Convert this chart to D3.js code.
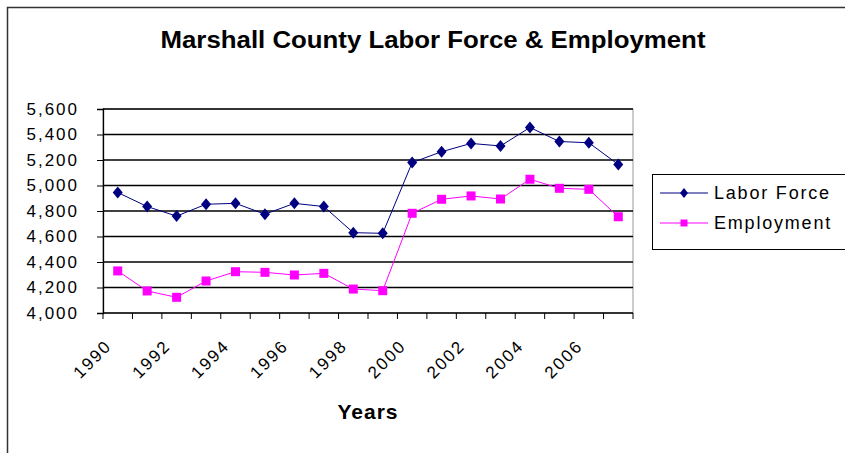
<!DOCTYPE html>
<html>
<head>
<meta charset="utf-8">
<script src="https://cdn.jsdelivr.net/npm/d3@7"></script>
<style>
  body { margin: 0; background: #fff; }
  text { font-family: "Liberation Sans", Arial, sans-serif; }
</style>
</head>
<body>
<svg width="845" height="453"></svg>
<script>
var years = [1990, 1991, 1992, 1993, 1994, 1995, 1996, 1997, 1998, 1999,
             2000, 2001, 2002, 2003, 2004, 2005, 2006, 2007];
var laborForce = [4945, 4835, 4760, 4853, 4860, 4775, 4860, 4835, 4630, 4625,
                  5180, 5265, 5330, 5310, 5455, 5345, 5335, 5165];
var employment = [4330, 4173, 4123, 4251, 4324, 4319, 4298, 4311, 4188, 4175,
                  4782, 4892, 4918, 4894, 5049, 4978, 4970, 4755];
var yTicks = [4000, 4200, 4400, 4600, 4800, 5000, 5200, 5400, 5600];
var series = [
  { name: "Labor Force", values: laborForce, color: "#000080", marker: "diamond" },
  { name: "Employment", values: employment, color: "#ff00ff", marker: "square" }
];

var svg = d3.select("svg"),
    plotLeft = 103, plotRight = 633, plotTop = 109, plotBottom = 313;

// outer chart frame (runs off the bottom/right edge like the screenshot)
svg.append("rect")
   .attr("x", 7.5).attr("y", 7.5)
   .attr("width", 860).attr("height", 470)
   .attr("fill", "#fff").attr("stroke", "#333").attr("stroke-width", 1.5);

var x = d3.scaleBand().domain(years).range([plotLeft, plotRight]).padding(0),
    y = d3.scaleLinear().domain([4000, 5600]).range([plotBottom, plotTop]);

// plot area border
svg.append("rect")
   .attr("x", plotLeft).attr("y", plotTop)
   .attr("width", plotRight - plotLeft).attr("height", plotBottom - plotTop)
   .attr("fill", "#fff").attr("stroke", "#999").attr("stroke-width", 1);

// gridlines
svg.append("g").selectAll("line")
   .data(yTicks.slice(1))
   .enter().append("line")
   .attr("x1", plotLeft).attr("x2", plotRight)
   .attr("y1", function(d) { return y(d); })
   .attr("y2", function(d) { return y(d); })
   .attr("stroke", "#000").attr("stroke-width", 1.3);

// y axis
var yAxis = svg.append("g")
   .attr("transform", "translate(" + plotLeft + ",0)")
   .call(d3.axisLeft(y).tickValues(yTicks).tickSize(6).tickPadding(18)
          .tickFormat(d3.format(",")));
yAxis.select(".domain").attr("stroke", "#000").attr("stroke-width", 1.3);
yAxis.selectAll("text")
   .attr("font-size", 17).attr("letter-spacing", 2).attr("fill", "#000")
   .attr("font-family", "Liberation Sans, Arial, sans-serif");

// x axis: ticks on category boundaries
var xAxis = svg.append("g").attr("transform", "translate(0," + plotBottom + ")");
xAxis.append("line").attr("x1", plotLeft).attr("x2", plotRight)
   .attr("stroke", "#000").attr("stroke-width", 1.3);
var bounds = years.map(function(d) { return x(d); }).concat([plotRight]);
xAxis.selectAll("line.tick").data(bounds).enter().append("line")
   .attr("class", "tick")
   .attr("x1", function(d) { return d; }).attr("x2", function(d) { return d; })
   .attr("y1", 0).attr("y2", 6).attr("stroke", "#000");
xAxis.selectAll("text").data(years.filter(function(d, i) { return i % 2 === 0; }))
   .enter().append("text")
   .attr("transform", function(d) {
     return "translate(" + (x(d) + x.bandwidth() / 2 - 5) + ",34) rotate(-45)";
   })
   .attr("text-anchor", "end")
   .attr("font-size", 17)
   .attr("letter-spacing", 2)
   .attr("fill", "#000")
   .text(function(d) { return d; });

// lines and markers
var line = d3.line()
   .x(function(d, i) { return x(years[i]) + x.bandwidth() / 2; })
   .y(function(d) { return y(d); });

function drawMarker(g, kind, color, r) {
  if (kind === "diamond") {
    g.append("path")
     .attr("d", "M0," + (-r - 1) + "L" + r + ",0L0," + (r + 1) + "L" + (-r) + ",0Z")
     .attr("fill", color);
  } else {
    g.append("rect").attr("x", -r + 0.5).attr("y", -r + 0.5)
     .attr("width", 2 * r - 1).attr("height", 2 * r - 1).attr("fill", color);
  }
}

series.forEach(function(s) {
  svg.append("path")
     .datum(s.values)
     .attr("d", line)
     .attr("fill", "none")
     .attr("stroke", s.color)
     .attr("stroke-width", 1);
  svg.append("g").selectAll("g")
     .data(s.values)
     .enter().append("g")
     .attr("transform", function(d, i) {
       return "translate(" + (x(years[i]) + x.bandwidth() / 2) + "," + y(d) + ")";
     })
     .each(function() { drawMarker(d3.select(this), s.marker, s.color, 5); });
});

// title
svg.append("text")
   .attr("x", 433).attr("y", 48)
   .attr("text-anchor", "middle")
   .attr("font-size", 23).attr("font-weight", "bold")
   .attr("textLength", 545).attr("lengthAdjust", "spacingAndGlyphs")
   .text("Marshall County Labor Force & Employment");

// x axis title
svg.append("text")
   .attr("x", 368).attr("y", 419)
   .attr("text-anchor", "middle")
   .attr("font-size", 21).attr("font-weight", "bold")
   .attr("letter-spacing", 1)
   .text("Years");

// legend
var legend = svg.append("g");
legend.append("rect")
   .attr("x", 652.5).attr("y", 174.5)
   .attr("width", 200).attr("height", 75)
   .attr("fill", "#fff").attr("stroke", "#000");
series.forEach(function(s, i) {
  var ly = 193 + i * 30;
  legend.append("line")
     .attr("x1", 660).attr("x2", 708).attr("y1", ly).attr("y2", ly)
     .attr("stroke", s.color);
  var m = legend.append("g").attr("transform", "translate(684," + ly + ")");
  drawMarker(m, s.marker, s.color, 4);
  legend.append("text")
     .attr("x", 714).attr("y", ly + 6)
     .attr("font-size", 18).attr("letter-spacing", 1.8).attr("fill", "#000")
     .text(s.name);
});
</script>
</body>
</html>
